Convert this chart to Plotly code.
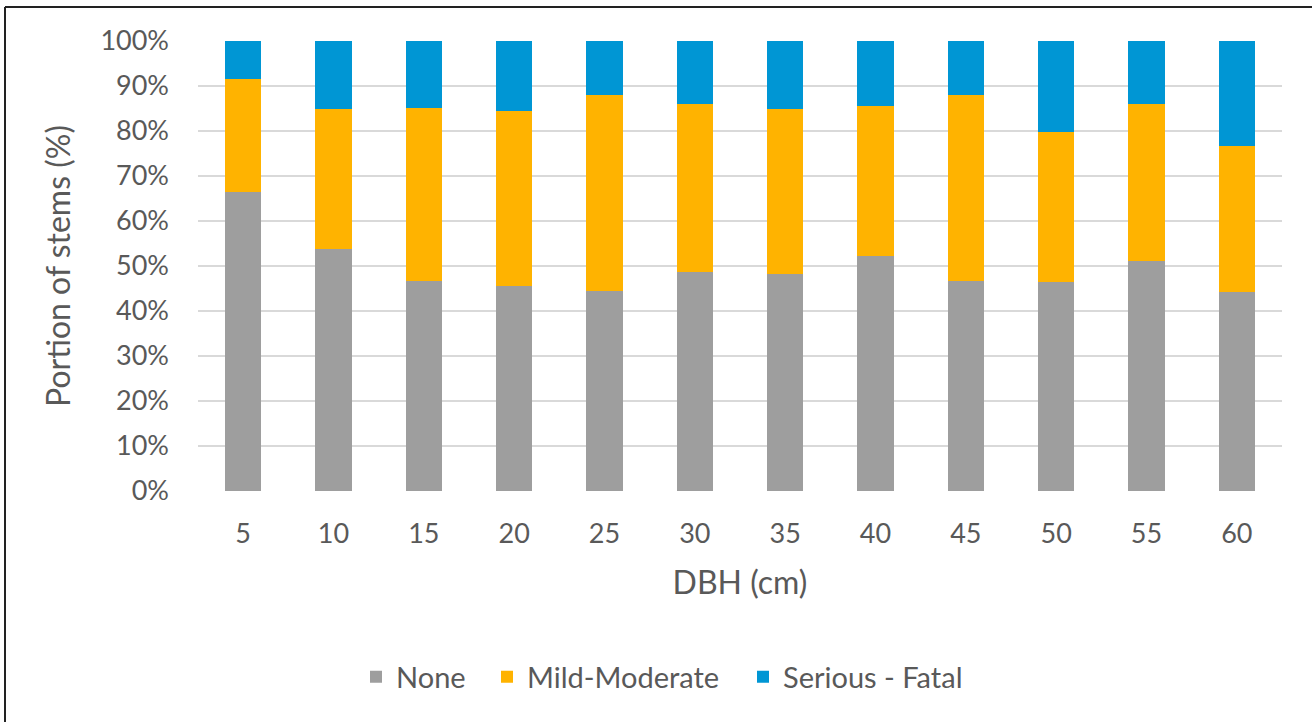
import plotly.graph_objects as go

# DBH classes (cm)
dbh = ["5", "10", "15", "20", "25", "30", "35", "40", "45", "50", "55", "60"]

# Share of stems in each damage class (%)
none_pct = [66.4, 53.7, 46.7, 45.5, 44.5, 48.6, 48.2, 52.2, 46.7, 46.4, 51.2, 44.2]
mild_pct = [25.2, 31.2, 38.5, 39.0, 43.5, 37.3, 36.8, 33.4, 41.3, 33.3, 34.7, 32.4]
serious_pct = [8.4, 15.1, 14.8, 15.5, 12.0, 14.1, 15.0, 14.4, 12.0, 20.3, 14.1, 23.4]

series = [
    ("None", none_pct, "#9e9e9e"),
    ("Mild-Moderate", mild_pct, "#ffb300"),
    ("Serious - Fatal", serious_pct, "#0096d4"),
]

# horizontal centre of each legend swatch, in pixels of the full figure
legend_swatch_x = [376, 507, 763]

FONT = "Lato, 'Open Sans', sans-serif"
TEXT = "#595959"

W, H = 1312, 722
L, R, T, B = 198, 30, 41, 231
PW, PH = W - L - R, H - T - B

fig = go.Figure()
legend_names = ["legend", "legend2", "legend3"]
for (name, vals, color), lg in zip(series, legend_names):
    fig.add_trace(go.Bar(
        x=dbh, y=[v / 100 for v in vals], name=name, legend=lg,
        marker=dict(color=color, line=dict(width=0)),
        showlegend=True,
    ))

legend_style = dict(
    orientation="h", xanchor="left",
    y=(H - B - 677) / PH, yanchor="middle",
    font=dict(size=29, color=TEXT), itemwidth=30,
    bgcolor="rgba(0,0,0,0)", borderwidth=0,
)
legends = {}
for lg, cx in zip(legend_names, legend_swatch_x):
    legends[lg] = dict(legend_style, x=(cx - 20 - L) / PW)

fig.update_layout(
    width=W, height=H,
    margin=dict(l=L, r=R, t=T, b=B, autoexpand=False),
    barmode="stack", bargap=0.6,
    plot_bgcolor="white", paper_bgcolor="white",
    font=dict(family=FONT, color=TEXT, size=27),
    xaxis=dict(
        title=dict(text="DBH (cm)", font=dict(size=32, color=TEXT), standoff=23),
        showgrid=False, showline=False, zeroline=False,
        ticks="", ticklabelstandoff=24,
        tickfont=dict(size=27, color=TEXT),
    ),
    yaxis=dict(
        title=dict(text="Portion of stems (%)", font=dict(size=32, color=TEXT), standoff=20),
        range=[0, 1], tickvals=[i / 10 for i in range(11)], tickformat=".0%",
        showgrid=True, gridcolor="#d9d9d9", gridwidth=2,
        showline=False, zeroline=False, ticks="", ticklabelstandoff=28,
        tickfont=dict(size=27, color=TEXT),
    ),
    shapes=[
        # frame lines along the top and left edges
        dict(type="line", xref="paper", yref="paper",
             x0=(5 - L) / PW, x1=(W + 10 - L) / PW,
             y0=(H - B - 7) / PH, y1=(H - B - 7) / PH,
             line=dict(color="#222222", width=2)),
        dict(type="line", xref="paper", yref="paper",
             x0=(5 - L) / PW, x1=(5 - L) / PW,
             y0=(H - B - 7) / PH, y1=(H - B - H - 10) / PH,
             line=dict(color="#222222", width=2)),
    ],
    **legends,
)

fig.write_html("out.html")
